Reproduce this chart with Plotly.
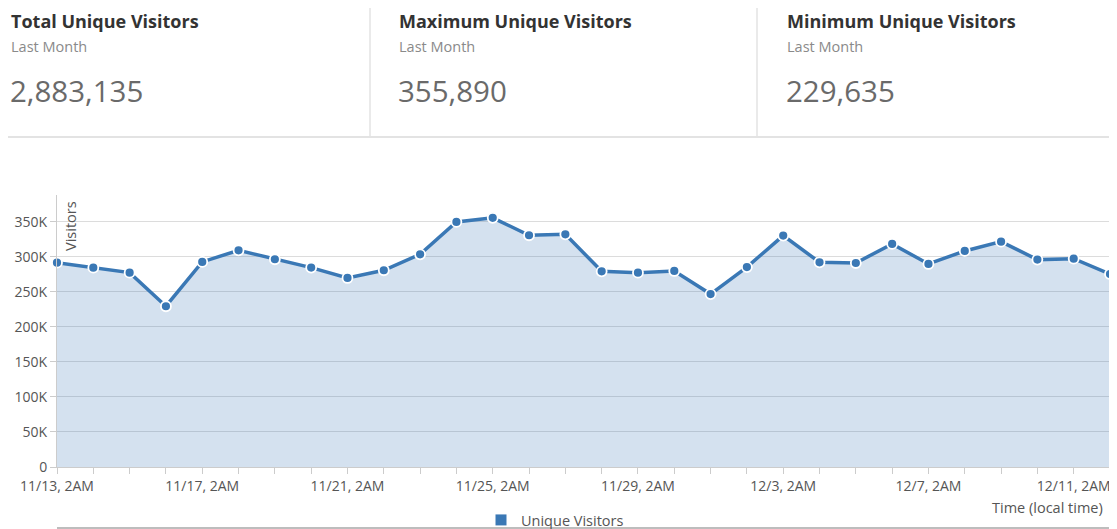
import plotly.graph_objects as go
import pandas as pd

# ---- data ----
start_date = "2017-11-13 02:00"
visitors = [291900, 284700, 277600, 229635, 292900, 309500, 296700, 284800, 270000, 281000,
            303800, 350000, 355890, 331000, 332400, 279500, 277600, 280000, 247000, 285500,
            330500, 292400, 291400, 318600, 290000, 308600, 321900, 296200, 297600, 275700]
dates = pd.date_range(start_date, periods=len(visitors), freq="D")

x_tick_dates = ["2017-11-13 02:00", "2017-11-17 02:00", "2017-11-21 02:00", "2017-11-25 02:00",
                "2017-11-29 02:00", "2017-12-03 02:00", "2017-12-07 02:00", "2017-12-11 02:00"]
x_tick_labels = ["11/13, 2AM", "11/17, 2AM", "11/21, 2AM", "11/25, 2AM",
                 "11/29, 2AM", "12/3, 2AM", "12/7, 2AM", "12/11, 2AM"]
y_tick_vals = [0, 50000, 100000, 150000, 200000, 250000, 300000, 350000]
y_tick_labels = ["0", "50K", "100K", "150K", "200K", "250K", "300K", "350K"]

kpi_titles = ["Total Unique Visitors", "Maximum Unique Visitors", "Minimum Unique Visitors"]
kpi_sub = ["Last Month", "Last Month", "Last Month"]
kpi_values = ["2,883,135", "355,890", "229,635"]

# ---- layout geometry ----
# The page body has an 8px margin, so the figure is placed at (8, 8) in the window.
OFF = 8
W, H = 1117 - OFF, 529 - OFF
L, R, T, B = 57 - OFF, 7, 195 - OFF, 62
PW, PH = W - L - R, H - T - B


def xp(px):
    """window pixel x -> paper coordinate"""
    return (px - OFF - L) / PW


def yp(py):
    """window pixel y -> paper coordinate"""
    return (H - B - (py - OFF)) / PH


LINE = "#3a78b5"
FONT = "Open Sans, Noto Sans, sans-serif"

fig = go.Figure()
fig.add_trace(go.Scatter(
    x=dates, y=visitors, mode="lines+markers", fill="tozeroy",
    fillcolor="rgba(58,120,181,0.22)",
    line=dict(color=LINE, width=3.5),
    marker=dict(size=10, color=LINE, line=dict(color="white", width=1.8)),
    showlegend=False, name="Unique Visitors", cliponaxis=False,
))
fig.add_trace(go.Scatter(
    x=[None], y=[None], mode="markers", name="Unique Visitors",
    marker=dict(symbol="square", size=11, color=LINE),
))

annotations = []
card_x = [10, 398, 786]
for i in range(3):
    annotations.append(dict(x=xp(card_x[i] - 1), y=yp(21), xref="paper", yref="paper",
                            xanchor="left", yanchor="middle", showarrow=False,
                            text="<b>%s</b>" % kpi_titles[i],
                            font=dict(size=18, color="#333333", family=FONT)))
    annotations.append(dict(x=xp(card_x[i] - 1), y=yp(47), xref="paper", yref="paper",
                            xanchor="left", yanchor="middle", showarrow=False,
                            text=kpi_sub[i], font=dict(size=14.5, color="#8a8a8a", family=FONT)))
    annotations.append(dict(x=xp(card_x[i] - 2), y=yp(90), xref="paper", yref="paper",
                            xanchor="left", yanchor="middle", showarrow=False,
                            text=kpi_values[i], font=dict(size=29.5, color="#6a6a6a", family=FONT)))

annotations.append(dict(x=xp(70), y=yp(199), xref="paper", yref="paper",
                        xanchor="center", yanchor="top", showarrow=False, textangle=-90,
                        text="Visitors", font=dict(size=14.5, color="#555555", family=FONT)))
annotations.append(dict(x=xp(1105), y=yp(507), xref="paper", yref="paper",
                        xanchor="right", yanchor="middle", showarrow=False,
                        text="Time (local time)", font=dict(size=14.5, color="#555555", family=FONT)))

shapes = [
    dict(type="line", xref="paper", yref="paper", x0=xp(0), x1=xp(1117), y0=yp(137), y1=yp(137),
         line=dict(color="#e3e3e3", width=2)),
    dict(type="line", xref="paper", yref="paper", x0=xp(370), x1=xp(370), y0=yp(5), y1=yp(137),
         line=dict(color="#e3e3e3", width=1.5)),
    dict(type="line", xref="paper", yref="paper", x0=xp(757), x1=xp(757), y0=yp(5), y1=yp(137),
         line=dict(color="#e3e3e3", width=1.5)),
    dict(type="line", xref="paper", yref="paper", x0=xp(57), x1=xp(1117), y0=yp(528), y1=yp(528),
         line=dict(color="#bdbdbd", width=2), layer="above"),
]

fig.update_layout(
    width=W, height=H,
    margin=dict(l=L, r=R, t=T, b=B, pad=0, autoexpand=False),
    paper_bgcolor="white", plot_bgcolor="white",
    font=dict(family=FONT, color="#555555", size=14),
    annotations=annotations, shapes=shapes,
    legend=dict(orientation="h", x=xp(481), xanchor="left", y=yp(520), yanchor="middle",
                bgcolor="rgba(0,0,0,0)",
                font=dict(size=14.5, color="#555555", family=FONT), itemwidth=30),
    xaxis=dict(
        range=[dates[0], dates[-1]], type="date",
        tickvals=x_tick_dates, ticktext=x_tick_labels,
        showgrid=False, showline=True, linecolor="#cccccc", linewidth=1,
        ticks="outside", ticklen=6, tickcolor="#cccccc",
        tickfont=dict(size=14, color="#555555"),
        minor=dict(ticks="outside", ticklen=6, tickcolor="#cccccc",
                   dtick=86400000, tick0=start_date, showgrid=False),
        zeroline=False, fixedrange=True, automargin=False,
    ),
    yaxis=dict(
        range=[0, 388500], tickvals=y_tick_vals, ticktext=y_tick_labels,
        showgrid=True, gridcolor="#dcdcdc", gridwidth=1,
        showline=True, linecolor="#cccccc", linewidth=1,
        ticks="outside", ticklen=6, tickcolor="#cccccc",
        tickfont=dict(size=14, color="#555555"),
        zeroline=False, fixedrange=True, automargin=False,
    ),
)

fig.write_html("out.html")
